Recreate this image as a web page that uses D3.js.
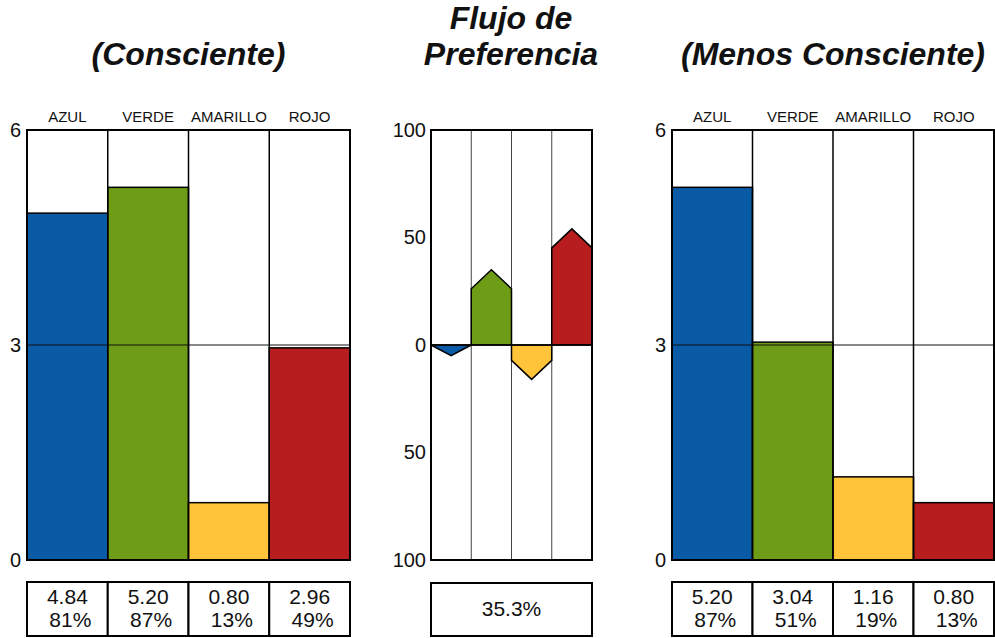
<!DOCTYPE html>
<html>
<head>
<meta charset="utf-8">
<script src="https://cdnjs.cloudflare.com/ajax/libs/d3/7.8.5/d3.min.js"></script>
<style>
  body { margin: 0; background: #fff; }
  svg { display: block; font-family: "Liberation Sans", Arial, sans-serif; }
</style>
</head>
<body>
<div id="chart"></div>
<script>
// data
var categories = ["AZUL", "VERDE", "AMARILLO", "ROJO"];
var colors = ["#0a5ba6", "#6e9c17", "#ffc43a", "#b71c1f"];
var consciente = [4.84, 5.20, 0.80, 2.96];
var conscientePct = ["81%", "87%", "13%", "49%"];
var menosConsciente = [5.20, 3.04, 1.16, 0.80];
var menosPct = ["87%", "51%", "19%", "13%"];
var flujo = [-5, 35, -16, 54];
var flujoTotal = "35.3%";
var valueTicks = [0, 3, 6];
var flowTicks = [-100, -50, 0, 50, 100];

var width = 995, height = 638,
    plotTop = 130, plotBottom = 560;

var svg = d3.select("#chart").append("svg")
    .attr("width", width)
    .attr("height", height);

/* bar panel (consciente / menos consciente) */
var drawBars = function(x0, x1, values, pcts, title) {
    var x = d3.scaleBand().domain(categories).range([x0, x1]);
    var y = d3.scaleLinear().domain([0, 6]).range([plotBottom, plotTop]);
    var g = svg.append("g");

    g.append("rect")
        .attr("x", x0).attr("y", plotTop)
        .attr("width", x1 - x0).attr("height", plotBottom - plotTop)
        .attr("fill", "#fff");

    g.selectAll(".bar")
        .data(values)
        .enter().append("rect")
        .attr("x", function(d, i) { return x(categories[i]); })
        .attr("y", function(d) { return y(d); })
        .attr("width", x.bandwidth())
        .attr("height", function(d) { return y(0) - y(d); })
        .attr("fill", function(d, i) { return colors[i]; })
        .attr("stroke", "#000")
        .attr("stroke-width", 1.5);

    // mid line at 3
    g.append("line")
        .attr("x1", x0).attr("x2", x1)
        .attr("y1", y(3)).attr("y2", y(3))
        .attr("stroke", "#111").attr("stroke-width", 1);

    // column dividers
    g.selectAll(".div")
        .data(categories.slice(1))
        .enter().append("line")
        .attr("x1", function(d) { return x(d); })
        .attr("x2", function(d) { return x(d); })
        .attr("y1", plotTop).attr("y2", plotBottom)
        .attr("stroke", "#000").attr("stroke-width", 1.5);

    g.append("rect")
        .attr("x", x0).attr("y", plotTop)
        .attr("width", x1 - x0).attr("height", plotBottom - plotTop)
        .attr("fill", "none").attr("stroke", "#000").attr("stroke-width", 2);

    var axis = d3.axisLeft(y).tickValues(valueTicks).tickSize(0).tickPadding(6)
        .tickFormat(d3.format("d"));
    var ax = g.append("g").attr("transform", "translate(" + x0 + ",0)").call(axis);
    ax.select(".domain").remove();
    ax.selectAll("text").attr("font-size", 20).attr("font-family", "Liberation Sans, Arial, sans-serif").attr("fill", "#111");

    g.selectAll(".cat")
        .data(categories)
        .enter().append("text")
        .attr("x", function(d) { return x(d) + x.bandwidth() / 2; })
        .attr("y", plotTop - 8)
        .attr("text-anchor", "middle")
        .attr("font-size", 15)
        .attr("fill", "#111")
        .text(function(d) { return d; });

    // table under chart
    var ty0 = 582, ty1 = 636;
    g.selectAll(".cell")
        .data(categories)
        .enter().append("rect")
        .attr("x", function(d) { return x(d); })
        .attr("y", ty0)
        .attr("width", x.bandwidth())
        .attr("height", ty1 - ty0)
        .attr("fill", "#fff").attr("stroke", "#000").attr("stroke-width", 2);

    g.selectAll(".val")
        .data(values)
        .enter().append("text")
        .attr("x", function(d, i) { return x(categories[i]) + x.bandwidth() / 2; })
        .attr("y", 604)
        .attr("text-anchor", "middle")
        .attr("font-size", 21)
        .attr("fill", "#111")
        .text(function(d) { return d.toFixed(2); });

    g.selectAll(".pct")
        .data(pcts)
        .enter().append("text")
        .attr("x", function(d, i) { return x(categories[i]) + x.bandwidth() / 2 + 3; })
        .attr("y", 627)
        .attr("text-anchor", "middle")
        .attr("font-size", 21)
        .attr("fill", "#111")
        .text(function(d) { return d; });

    svg.append("text")
        .attr("x", (x0 + x1) / 2)
        .attr("y", 65)
        .attr("text-anchor", "middle")
        .attr("font-size", 32)
        .attr("font-weight", "bold")
        .attr("font-style", "italic")
        .attr("fill", "#111")
        .text(title);
};

drawBars(27, 350, consciente, conscientePct, "(Consciente)");
drawBars(672, 994, menosConsciente, menosPct, "(Menos Consciente)");

/* flow panel */
var fx0 = 431, fx1 = 592;
var fx = d3.scaleBand().domain(categories).range([fx0, fx1]);
var fy = d3.scaleLinear().domain([-100, 100]).range([plotBottom, plotTop]);
var headH = 19;
var fg = svg.append("g");

fg.append("rect")
    .attr("x", fx0).attr("y", plotTop)
    .attr("width", fx1 - fx0).attr("height", plotBottom - plotTop)
    .attr("fill", "#fff");

fg.selectAll(".div")
    .data(categories.slice(1))
    .enter().append("line")
    .attr("x1", function(d) { return fx(d); })
    .attr("x2", function(d) { return fx(d); })
    .attr("y1", plotTop).attr("y2", plotBottom)
    .attr("stroke", "#444").attr("stroke-width", 1);

fg.selectAll(".arrow")
    .data(flujo)
    .enter().append("path")
    .attr("d", function(d, i) {
        var xl = fx(categories[i]), xr = xl + fx.bandwidth(), xm = (xl + xr) / 2;
        var y0 = fy(0), yt = fy(d);
        var dir = d >= 0 ? -1 : 1;
        var h = Math.min(Math.abs(yt - y0), headH);
        var yb = yt - dir * h;
        return "M" + xl + "," + y0 + "L" + xl + "," + yb + "L" + xm + "," + yt +
               "L" + xr + "," + yb + "L" + xr + "," + y0 + "Z";
    })
    .attr("fill", function(d, i) { return colors[i]; })
    .attr("stroke", "#000")
    .attr("stroke-width", 1.5)
    .attr("stroke-linejoin", "miter");

fg.append("line")
    .attr("x1", fx0).attr("x2", fx1)
    .attr("y1", fy(0)).attr("y2", fy(0))
    .attr("stroke", "#000").attr("stroke-width", 1.5);

fg.append("rect")
    .attr("x", fx0).attr("y", plotTop)
    .attr("width", fx1 - fx0).attr("height", plotBottom - plotTop)
    .attr("fill", "none").attr("stroke", "#000").attr("stroke-width", 2);

var fAxis = d3.axisLeft(fy).tickValues(flowTicks).tickSize(0).tickPadding(5)
    .tickFormat(function(d) { return Math.abs(d); });
var fax = fg.append("g").attr("transform", "translate(" + fx0 + ",0)").call(fAxis);
fax.select(".domain").remove();
fax.selectAll("text").attr("font-size", 20).attr("font-family", "Liberation Sans, Arial, sans-serif").attr("fill", "#111");

fg.append("rect")
    .attr("x", fx0).attr("y", 583)
    .attr("width", fx1 - fx0).attr("height", 53)
    .attr("fill", "#fff").attr("stroke", "#000").attr("stroke-width", 2);

fg.append("text")
    .attr("x", (fx0 + fx1) / 2)
    .attr("y", 616)
    .attr("text-anchor", "middle")
    .attr("font-size", 21)
    .attr("fill", "#111")
    .text(flujoTotal);

var ftitle = svg.append("text")
    .attr("text-anchor", "middle")
    .attr("font-size", 32)
    .attr("font-weight", "bold")
    .attr("font-style", "italic")
    .attr("fill", "#111");
ftitle.append("tspan").attr("x", 511).attr("y", 29).text("Flujo de");
ftitle.append("tspan").attr("x", 511).attr("y", 65).text("Preferencia");
</script>
</body>
</html>
